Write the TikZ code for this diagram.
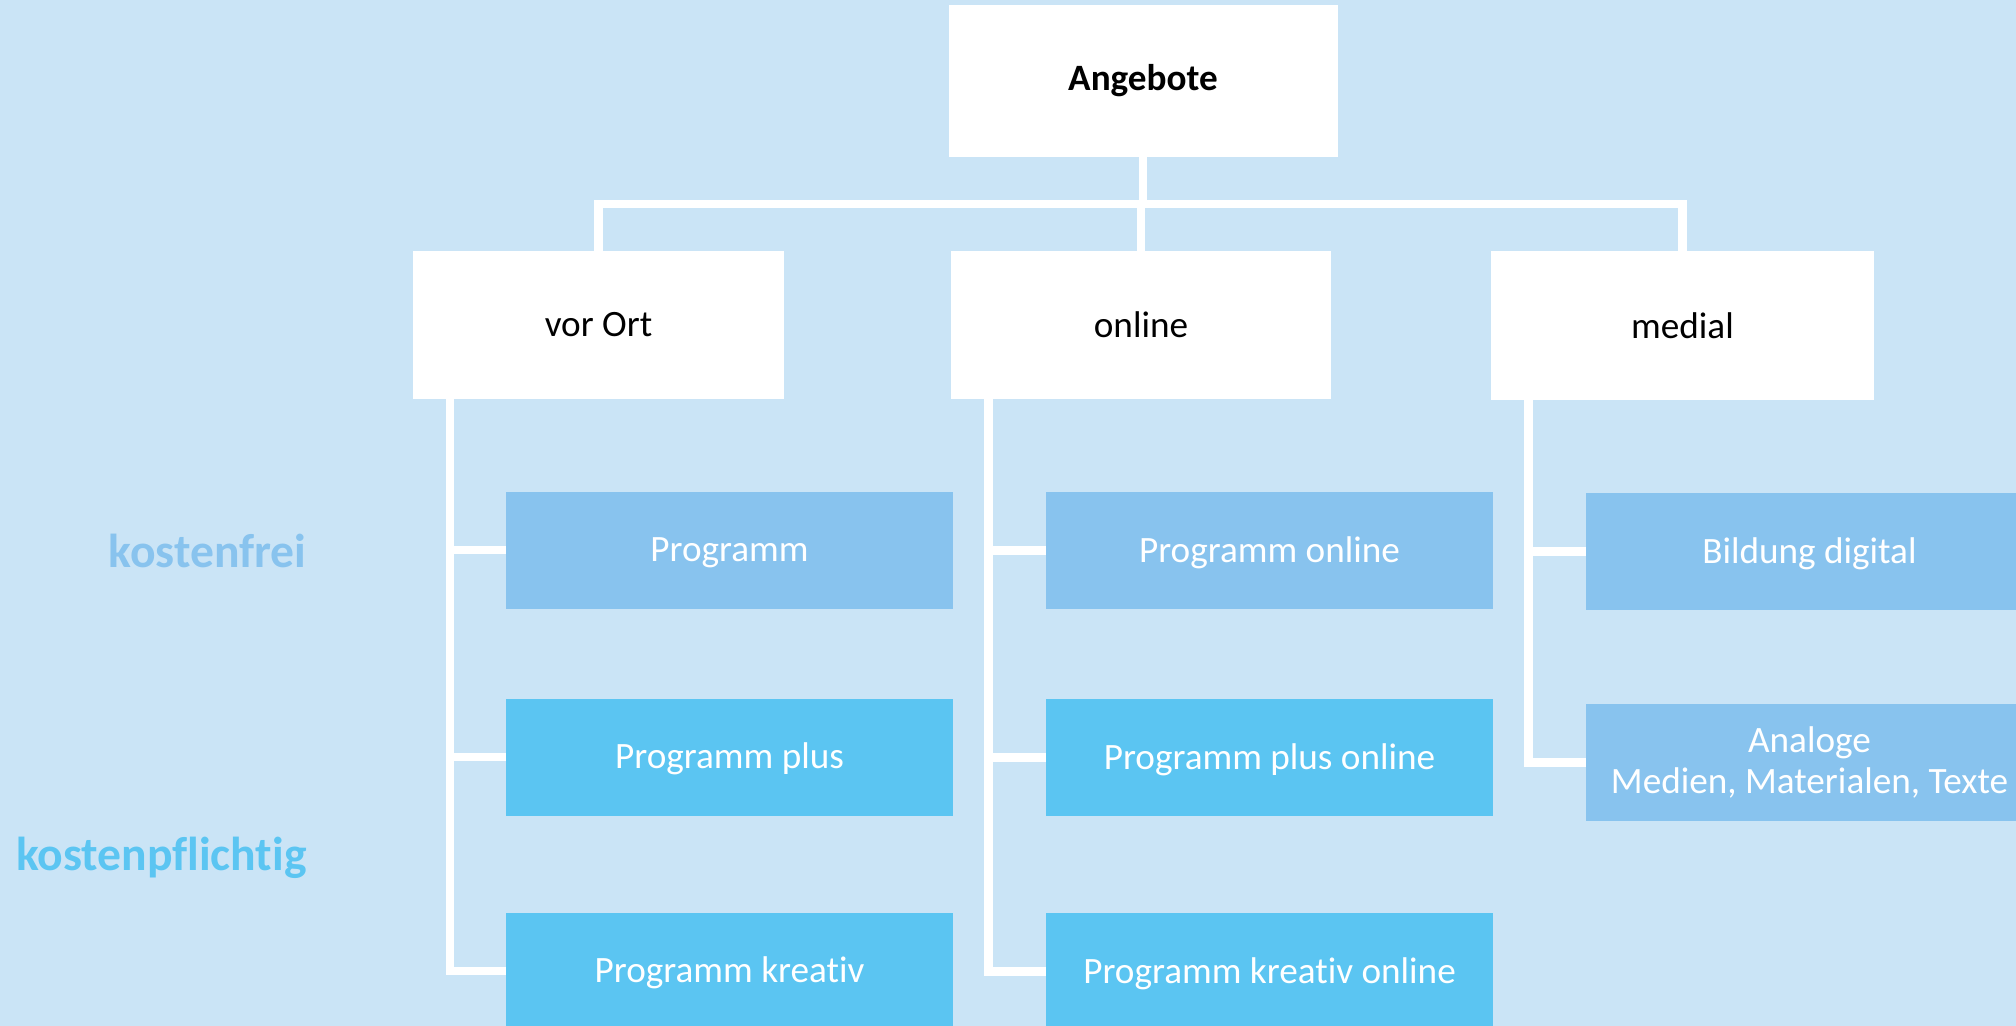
\documentclass[tikz,border=0pt]{standalone}
\usepackage{fontspec}
\setmainfont{Carlito}[Ligatures={TeX,NoCommon}]

\definecolor{bgblue}{HTML}{CAE4F6}
\definecolor{freeblue}{HTML}{88C3EE}
\definecolor{paidblue}{HTML}{5BC5F2}

\tikzset{
  conn/.style={draw=white,line width=4.25pt},
  topbox/.style={fill=white,inner sep=0pt,minimum height=74pt,font=\fontsize{18.6}{21.6}\selectfont},
  childbox/.style={text=white,inner sep=0pt,minimum width=223.5pt,minimum height=58.5pt,align=center,font=\fontsize{18.6}{20.5}\selectfont},
  freebox/.style={childbox,fill=freeblue,text height=15.5pt,text depth=4pt},
  paidbox/.style={childbox,fill=paidblue,text height=15.5pt,text depth=4pt},
  costlabel/.style={anchor=base east,inner sep=0pt,font=\fontsize{23.8}{27}\selectfont\bfseries}
}

\begin{document}
\begin{tikzpicture}[x=0.5pt,y=-0.5pt]
  \fill [bgblue] (0,0) rectangle (2016,1026);
  \useasboundingbox (0,0) rectangle (2016,1026);

  \coordinate (c0) at (1143,81);
  \coordinate (c1) at (598.5,325);
  \coordinate (c2) at (1141,325);
  \coordinate (c3) at (1682.5,325.5);
  \coordinate (bar) at (1143,204);

  \node [topbox,minimum width=194.5pt,minimum height=76pt,font=\fontsize{18.6}{21.6}\selectfont\bfseries] (angebote) at (c0) {Angebote};
  \node [topbox,minimum width=185.5pt] (vorort) at (c1) {vor Ort};
  \node [topbox,minimum width=190pt] (online) at (c2) {online};
  \node [topbox,minimum width=191.5pt] (medial) at (c3) {medial};

  % vor Ort
  \node [freebox] (prog) at (729.5,550) {Programm};
  \node [paidbox] (progplus) at (729.5,757) {Programm plus};
  \node [paidbox] (progkreativ) at (729.5,971) {Programm kreativ};

  % online
  \node [freebox] (progonline) at (1269.5,550.5) {Programm online};
  \node [paidbox] (plusonline) at (1269.5,757.5) {Programm plus online};
  \node [paidbox] (kreativonline) at (1269.5,971.5) {Programm kreativ online};

  % medial
  \node [freebox] (bildung) at (1809.5,551.5) {Bildung digital};
  \node [childbox,fill=freeblue] (analoge) at (1809.5,762.5) {Analoge\\Medien, Materialen, Texte};

  \draw [conn] (angebote.south) -- (bar);
  \draw [conn] (vorort.north) |- (bar) -| (medial.north);
  \draw [conn] (bar -| online.north) -- (online.north);

  \draw [conn] ([xshift=18.75pt]vorort.south west) |- (prog.west);
  \draw [conn] ([xshift=18.75pt]vorort.south west) |- (progplus.west);
  \draw [conn] ([xshift=18.75pt]vorort.south west) |- (progkreativ.west);

  \draw [conn] ([xshift=19pt]online.south west) |- (progonline.west);
  \draw [conn] ([xshift=19pt]online.south west) |- (plusonline.west);
  \draw [conn] ([xshift=19pt]online.south west) |- (kreativonline.west);

  \draw [conn] ([xshift=19pt]medial.south west) |- (bildung.west);
  \draw [conn] ([xshift=19pt]medial.south west) |- (analoge.west);

  \node [costlabel,text=freeblue] (free) at (307,567) {kostenfrei};
  \node [costlabel,text=paidblue] (paid) at (307,870) {kostenpflichtig};
\end{tikzpicture}
\end{document}
